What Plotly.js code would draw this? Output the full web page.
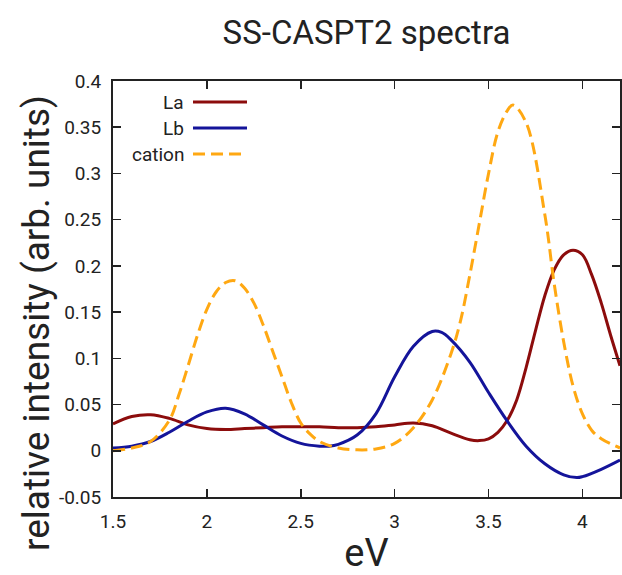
<!DOCTYPE html>
<html>
<head>
<meta charset="utf-8">
<script src="https://cdn.plot.ly/plotly-3.0.1.min.js"></script>
<style>html,body{margin:0;padding:0;background:#fff;}#chart{width:622px;height:575px;}</style>
</head>
<body>
<div id="chart"></div>
<script>
// Data (eV vs relative intensity)
const laX = [1.5,1.6,1.7,1.8,1.9,2.0,2.1,2.2,2.3,2.4,2.5,2.6,2.7,2.8,2.9,3.0,3.1,3.2,3.3,3.4,3.45,3.5,3.55,3.6,3.65,3.7,3.75,3.8,3.85,3.9,3.95,4.0,4.05,4.1,4.15,4.2];
const laY = [0.029,0.037,0.039,0.035,0.028,0.024,0.023,0.024,0.025,0.026,0.026,0.026,0.025,0.025,0.026,0.028,0.030,0.027,0.019,0.012,0.011,0.013,0.020,0.033,0.055,0.090,0.130,0.168,0.196,0.212,0.217,0.212,0.190,0.160,0.125,0.092];

const lbX = [1.5,1.6,1.7,1.8,1.9,2.0,2.1,2.2,2.3,2.4,2.5,2.6,2.65,2.7,2.8,2.9,3.0,3.1,3.2,3.25,3.3,3.4,3.5,3.6,3.7,3.8,3.9,3.97,4.0,4.1,4.2];
const lbY = [0.003,0.005,0.010,0.020,0.032,0.042,0.046,0.040,0.028,0.016,0.008,0.005,0.005,0.007,0.017,0.040,0.080,0.113,0.129,0.128,0.120,0.096,0.063,0.032,0.005,-0.014,-0.026,-0.029,-0.028,-0.020,-0.010];

const catX = [1.5,1.6,1.7,1.8,1.85,1.9,1.95,2.0,2.05,2.1,2.15,2.2,2.25,2.3,2.35,2.4,2.45,2.5,2.55,2.6,2.7,2.8,2.9,3.0,3.1,3.2,3.3,3.35,3.4,3.45,3.5,3.55,3.6,3.63,3.7,3.8,3.85,3.9,3.95,4.0,4.05,4.1,4.2];
const catY = [0.000,0.003,0.010,0.033,0.060,0.092,0.125,0.153,0.172,0.182,0.184,0.176,0.160,0.136,0.108,0.080,0.052,0.030,0.018,0.010,0.003,0.001,0.002,0.008,0.025,0.055,0.105,0.140,0.190,0.245,0.300,0.345,0.368,0.374,0.355,0.255,0.180,0.118,0.070,0.040,0.022,0.013,0.003];

const seriesNames = ["La","Lb","cation"];
const colors = ["#8c0c0c","#14149a","#ffa812"];
const xTicks = [1.5,2,2.5,3,3.5,4];
const xTickText = ["1.5","2","2.5","3","3.5","4"];
const yTicks = [-0.05,0,0.05,0.1,0.15,0.2,0.25,0.3,0.35,0.4];
const yTickText = ["-0.05","0","0.05","0.1","0.15","0.2","0.25","0.3","0.35","0.4"];
const yTitleText = "relative intensity (arb. units)";

const traces = [
  {x: laX, y: laY, name: seriesNames[0], mode: "lines", line: {color: colors[0], width: 3, shape: "spline", smoothing: 1}},
  {x: lbX, y: lbY, name: seriesNames[1], mode: "lines", line: {color: colors[1], width: 3, shape: "spline", smoothing: 1}},
  {x: catX, y: catY, name: seriesNames[2], mode: "lines", line: {color: colors[2], width: 3, shape: "spline", smoothing: 1, dash: "12px,6px"}}
];

const W = 622, H = 575, L = 113, R = 2, T = 81, B = 78;
const pw = W - L - R, ph = H - T - B;
const px = v => (v - L) / pw;          // pixel -> paper x
const py = v => (H - B - v) / ph;      // pixel -> paper y

const legendRows = [102, 128, 154];
const annotations = seriesNames.map((n, i) => ({
  xref: "paper", yref: "paper", x: px(186), y: py(legendRows[i]),
  xanchor: "right", yanchor: "middle", text: n, showarrow: false,
  font: {family: "Roboto", size: 19, color: "#222"}
}));
annotations.push({
  xref: "paper", yref: "paper", x: px(36), y: py(323), textangle: -90,
  xanchor: "center", yanchor: "middle", text: yTitleText, showarrow: false,
  font: {family: "Roboto", size: 37, color: "#222"}
});
const shapes = seriesNames.map((n, i) => ({
  type: "line", xref: "paper", yref: "paper",
  x0: px(193), x1: px(247), y0: py(legendRows[i]), y1: py(legendRows[i]),
  line: {color: colors[i], width: 3, dash: i === 2 ? "12px,6px" : "solid"}
}));

const axisCommon = {
  showline: true, mirror: "ticks", linecolor: "#222", linewidth: 2,
  ticks: "inside", ticklen: 8, tickwidth: 1.5, tickcolor: "#222",
  showgrid: false, zeroline: false, tickmode: "array",
  tickfont: {family: "Roboto", size: 19, color: "#222"}
};

const layout = {
  width: W, height: H, showlegend: false,
  paper_bgcolor: "#fff", plot_bgcolor: "#fff",
  margin: {l: L, r: R, t: T, b: B},
  title: {text: "SS-CASPT2 spectra", x: (L + pw / 2) / W, xanchor: "center", y: 1 - 32 / H, yanchor: "middle",
          yref: "container", xref: "container", font: {family: "Roboto", size: 33, color: "#222"}},
  xaxis: Object.assign({}, axisCommon, {range: [1.5, 4.2], tickvals: xTicks, ticktext: xTickText,
          ticklabelstandoff: 6,
          title: {text: "eV", font: {family: "Roboto", size: 38, color: "#222"}, standoff: 10}}),
  yaxis: Object.assign({}, axisCommon, {range: [-0.05, 0.4], tickvals: yTicks, ticktext: yTickText,
          ticklabelstandoff: 6}),
  annotations: annotations, shapes: shapes
};

Plotly.newPlot("chart", traces, layout, {staticPlot: true, displayModeBar: false});
</script>
</body>
</html>
